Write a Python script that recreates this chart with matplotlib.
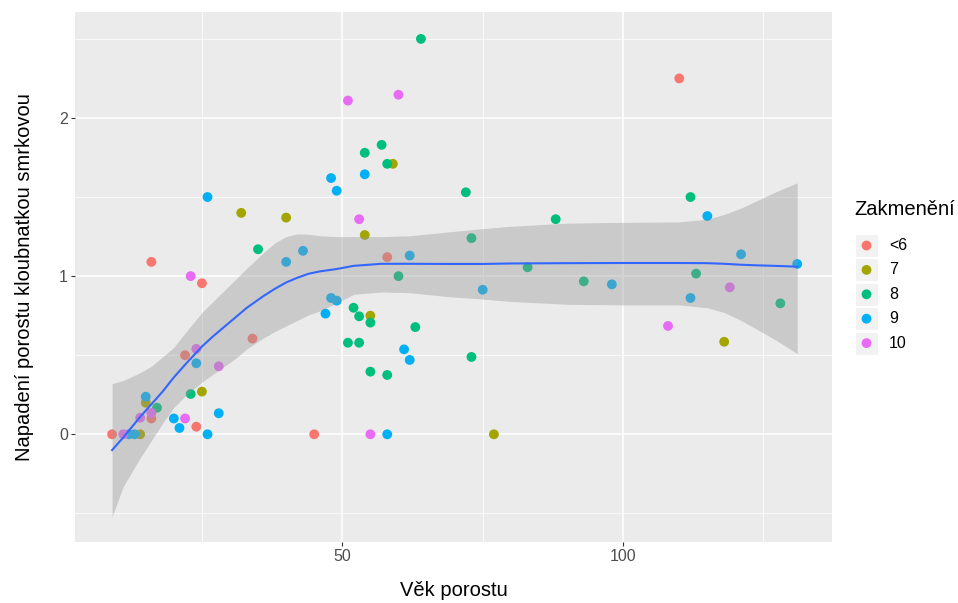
import numpy as np
import matplotlib
matplotlib.use("Agg")
from matplotlib import pyplot as plt
from matplotlib.patches import Rectangle

plt.rcParams['font.family'] = ['Liberation Sans', 'DejaVu Sans']

# points per stand density group (age, infestation)
red_x = [16, 25, 34, 22, 16, 24, 9, 45, 58, 110]
red_y = [1.09, 0.955, 0.605, 0.50, 0.10, 0.048, 0.0, 0.0, 1.12, 2.25]

olive_x = [32, 40, 25, 15, 14, 59, 54, 55, 77, 118]
olive_y = [1.40, 1.37, 0.27, 0.20, 0.0, 1.71, 1.26, 0.75, 0.0, 0.585]

green_x = [35, 23, 17, 64, 57, 54, 58, 72, 88, 73, 60, 83, 52, 53, 55, 63,
           51, 53, 73, 55, 58, 112, 113, 93, 128]
green_y = [1.17, 0.255, 0.168, 2.50, 1.83, 1.78, 1.71, 1.53, 1.36, 1.24, 1.0,
           1.056, 0.80, 0.746, 0.706, 0.678, 0.579, 0.579, 0.489, 0.396, 0.375,
           1.50, 1.016, 0.967, 0.828]

blue_x = [26, 48, 49, 43, 40, 24, 15, 20, 21, 28, 26, 12, 13, 48, 49, 47,
          54, 62, 61, 62, 58, 75, 115, 121, 131, 98, 112]
blue_y = [1.50, 1.62, 1.54, 1.16, 1.09, 0.449, 0.238, 0.10, 0.04, 0.133, 0.0,
          0.0, 0.0, 0.862, 0.845, 0.763, 1.644, 1.13, 0.537, 0.47, 0.0, 0.914,
          1.38, 1.138, 1.077, 0.948, 0.862]

pink_x = [23, 24, 28, 22, 11, 14, 16, 51, 60, 53, 55, 119, 108]
pink_y = [1.0, 0.54, 0.43, 0.10, 0.0, 0.105, 0.135, 2.11, 2.147, 1.36, 0.0,
          0.929, 0.685]

groups = ['<6', '7', '8', '9', '10']
colors = ['#F8766D', '#A3A500', '#00BF7D', '#00B0F6', '#E76BF3']
xs = [red_x, olive_x, green_x, blue_x, pink_x]
ys = [red_y, olive_y, green_y, blue_y, pink_y]

# loess fit and its confidence band
fit_x = [9, 11, 14, 16, 18, 20, 22, 25, 27, 29, 31, 33, 36, 38, 40, 42, 44,
         46, 49, 52, 57, 62, 69, 75, 80, 90, 100, 110, 115, 118, 121, 124,
         127, 131]
fit_y = [-0.10, -0.02, 0.11, 0.19, 0.27, 0.36, 0.44, 0.555, 0.62, 0.68, 0.74,
         0.80, 0.875, 0.92, 0.96, 0.99, 1.015, 1.03, 1.045, 1.065, 1.078,
         1.078, 1.077, 1.077, 1.08, 1.082, 1.083, 1.083, 1.082, 1.078, 1.072,
         1.068, 1.065, 1.06]
fit_hi = [0.32, 0.34, 0.39, 0.43, 0.49, 0.55, 0.64, 0.77, 0.84, 0.91, 0.98,
          1.05, 1.15, 1.21, 1.25, 1.267, 1.265, 1.255, 1.25, 1.25, 1.25,
          1.255, 1.28, 1.30, 1.315, 1.335, 1.34, 1.343, 1.36, 1.39, 1.43,
          1.48, 1.53, 1.59]
fit_lo = [-0.52, -0.33, -0.15, -0.04, 0.07, 0.17, 0.24, 0.33, 0.38, 0.43,
          0.48, 0.54, 0.61, 0.65, 0.685, 0.72, 0.755, 0.78, 0.83, 0.885, 0.90,
          0.895, 0.87, 0.855, 0.84, 0.822, 0.818, 0.818, 0.80, 0.77, 0.72,
          0.66, 0.60, 0.51]

W, H = 958, 603
fig = plt.figure(figsize=(W / 100, H / 100), dpi=100)
ax = fig.add_axes([75 / W, 1 - 542 / H, (832 - 75) / W, (542 - 12) / H])
ax.set_facecolor('#EBEBEB')
for s in ax.spines.values():
    s.set_visible(False)

ax.set_xlim(2.4, 137.2)
ax.set_ylim(-0.681, 2.67)
ax.set_xticks([50, 100])
ax.set_xticks([25, 75, 125], minor=True)
ax.set_yticks([0, 1, 2])
ax.set_yticks([-0.5, 0.5, 1.5, 2.5], minor=True)
ax.grid(which='major', color='white', linewidth=1.1)
ax.grid(which='minor', color='white', linewidth=0.55)
ax.set_axisbelow(True)
ax.tick_params(which='major', length=3, width=0.8, color='#333333',
               labelcolor='#4D4D4D', labelsize=11.5, pad=2)
ax.tick_params(which='minor', length=0)

for gx, gy, c in zip(xs, ys, colors):
    ax.scatter(gx, gy, s=50, color=c, edgecolors='none', zorder=2)

ax.fill_between(fit_x, fit_lo, fit_hi, color='#999999', alpha=0.4,
                linewidth=0, zorder=3)
ax.plot(fit_x, fit_y, color='#3366FF', linewidth=1.5, zorder=4)

ax.set_xlabel('Věk porostu', fontsize=14.5, labelpad=12)
ax.set_ylabel('Napadení porostu kloubnatkou smrkovou', fontsize=14.5,
              labelpad=18)

# legend drawn in pixel coordinates
lax = fig.add_axes([0, 0, 1, 1], zorder=-1)
lax.set_xlim(0, W)
lax.set_ylim(H, 0)
lax.axis('off')
lax.text(854, 215, 'Zakmenění', fontsize=14.5, va='baseline', ha='left')
for i, (g, c) in enumerate(zip(groups, colors)):
    top = 234 + i * 24.4
    lax.add_patch(Rectangle((855, top), 23, 23, facecolor='#F2F2F2',
                            edgecolor='white', linewidth=0.8))
    lax.scatter([866.5], [top + 11.5], s=50, color=c, edgecolors='none')
    lax.text(889, top + 11.5, g, fontsize=11.5, va='center', ha='left')

fig.savefig('out.png', dpi=100)
